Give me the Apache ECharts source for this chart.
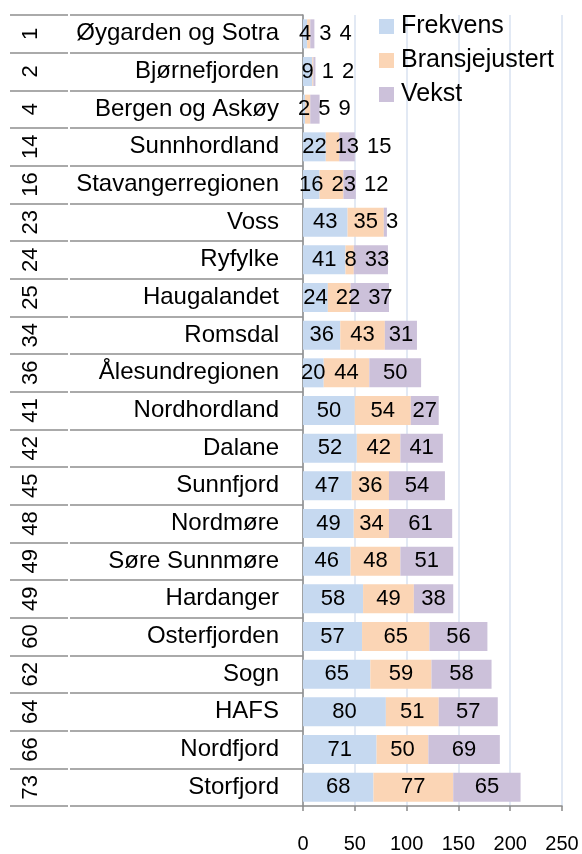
<!DOCTYPE html>
<html>
<head>
<meta charset="utf-8">
<script src="https://cdn.jsdelivr.net/npm/echarts@6/dist/echarts.min.js"></script>
<style>
html,body{margin:0;padding:0;background:#fff;}
#chart{width:582px;height:854px;}
</style>
</head>
<body>
<div id="chart"></div>
<script>
const categories = ['Øygarden og Sotra','Bjørnefjorden','Bergen og Askøy','Sunnhordland','Stavangerregionen','Voss','Ryfylke','Haugalandet','Romsdal','Ålesundregionen','Nordhordland','Dalane','Sunnfjord','Nordmøre','Søre Sunnmøre','Hardanger','Osterfjorden','Sogn','HAFS','Nordfjord','Storfjord'];
const ranks = ['1','2','4','14','16','23','24','25','34','36','41','42','45','48','49','49','60','62','64','66','73'];
const frekvens = [4,9,2,22,16,43,41,24,36,20,50,52,47,49,46,58,57,65,80,71,68];
const bransjejustert = [3,1,5,13,23,35,8,22,43,44,54,42,36,34,48,49,65,59,51,50,77];
const vekst = [4,2,9,15,12,3,33,37,31,50,27,41,54,61,51,38,56,58,57,69,65];
const xTicks = [0,50,100,150,200,250];

const FONT = 'Liberation Sans, Arial, sans-serif';
const lastRight = {};
const GAP = 8;
function spreadLabels(p) {
  const di = p.dataIndex;
  const r = p.labelRect;
  if (p.seriesIndex === 0) lastRight[di] = -Infinity;
  const minX = (lastRight[di] === undefined ? -Infinity : lastRight[di]) + GAP;
  let dx = 0;
  if (r.x < minX) dx = minX - r.x;
  lastRight[di] = r.x + dx + r.width;
  return { dx: dx };
}

function barSeries(name, data, color) {
  return {
    name: name, type: 'bar', stack: 'total', data: data,
    barCategoryGap: '23%',
    itemStyle: { color: color },
    label: { show: true, position: 'inside', color: '#000', fontSize: 22, fontFamily: FONT },
    labelLayout: spreadLabels,
    emphasis: { disabled: true }
  };
}

const chart = echarts.init(document.getElementById('chart'), null, { renderer: 'canvas' });
chart.setOption({
  animation: false,
  backgroundColor: '#fff',
  textStyle: { fontFamily: FONT },
  legend: {
    orient: 'vertical', left: 374, top: 9,
    itemWidth: 15, itemHeight: 15, itemGap: 9,
    icon: 'rect',
    textStyle: { fontSize: 25, color: '#000', fontFamily: FONT, padding: [0,0,0,2] },
    data: ['Frekvens','Bransjejustert','Vekst']
  },
  grid: { left: 303, right: 20, top: 15, bottom: 44, containLabel: false },
  xAxis: {
    type: 'value', min: xTicks[0], max: xTicks[xTicks.length-1], interval: 50,
    axisLine: { show: true, lineStyle: { color: '#8a8a8a', width: 1.5 } },
    axisTick: { show: true, length: 5, lineStyle: { color: '#8a8a8a', width: 1.5 } },
    axisLabel: { fontSize: 20, color: '#000', margin: 28, fontFamily: FONT },
    splitLine: { show: true, lineStyle: { color: '#d8e2f1', width: 1.5 } }
  },
  yAxis: [
    {
      type: 'category', data: categories, inverse: true,
      axisLine: { show: true, lineStyle: { color: '#8a8a8a', width: 1.5 } },
      axisTick: { show: true, length: 233, interval: 0, lineStyle: { color: '#8f8f8f', width: 1.5 } },
      axisLabel: { interval: 0, fontSize: 24, color: '#000', margin: 24, fontFamily: FONT }
    },
    {
      type: 'category', data: categories, inverse: true, position: 'left', offset: 235,
      axisLine: { show: false },
      axisTick: { show: true, length: 58, interval: 0, lineStyle: { color: '#8f8f8f', width: 1.5 } },
      axisLabel: { interval: 0, fontSize: 22, color: '#000', margin: 26, rotate: 90, fontFamily: FONT,
        formatter: function (v, i) { return ranks[i]; } }
    }
  ],
  series: [
    barSeries('Frekvens', frekvens, '#c6d9f0'),
    barSeries('Bransjejustert', bransjejustert, '#fbd5b5'),
    barSeries('Vekst', vekst, '#ccc1da')
  ]
});
</script>
</body>
</html>
